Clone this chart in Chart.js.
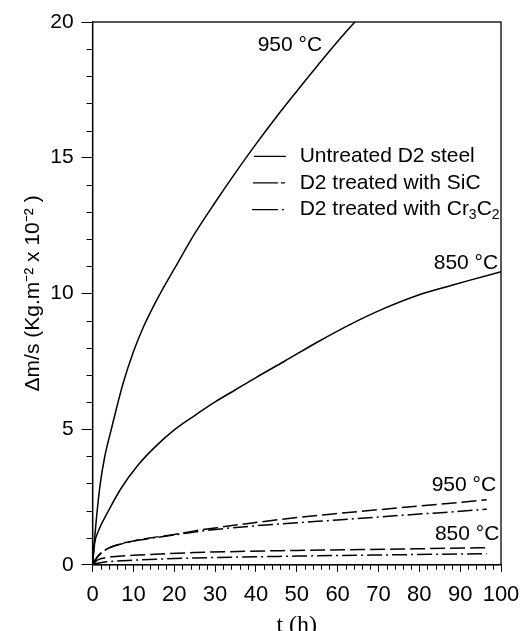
<!DOCTYPE html>
<html lang="en">

<head>
    <meta charset="UTF-8">
    <script src="https://cdn.jsdelivr.net/npm/chart.js@4.4.0/dist/chart.umd.min.js"></script>
    <title>Mass gain</title>
    <style>
        body { margin: 0; background: #fff; overflow: hidden; }
        .box_chart { width: 526px; height: 631px; position: relative; }
    </style>
</head>

<body>
    <div class="box_chart">
        <canvas id="chartMassa"></canvas>
    </div>
</body>

</html>
<script>
    /* dados: tempo (h) e ganho de massa */
    var tUntreated950 = [0, 0.4, 1, 1.9, 3, 4.6, 6, 7.5, 10, 12.5, 15, 17.5, 20, 25, 30, 35, 40, 45, 50, 55, 60, 64.5];
    var mUntreated950 = [0, 0.8, 1.8, 3.0, 4.0, 5.0, 5.85, 6.7, 7.85, 8.78, 9.55, 10.25, 10.9, 12.2, 13.35, 14.45, 15.5, 16.5, 17.45, 18.38, 19.28, 20.05];

    var tUntreated850 = [0, 0.5, 1.5, 4, 7, 11, 15, 20, 25, 30, 35, 40, 47, 55, 63, 71, 80, 88, 92, 100];
    var mUntreated850 = [0, 0.78, 1.27, 2.02, 2.82, 3.65, 4.3, 4.97, 5.5, 6.0, 6.45, 6.9, 7.5, 8.2, 8.85, 9.42, 9.95, 10.3, 10.47, 10.8];

    var tTreated950 = [0, 1, 2, 4, 7, 10, 14, 20, 25, 30, 40, 50, 60, 70, 80, 90, 96.5];
    var mSiC950 = [0, 0.25, 0.42, 0.62, 0.78, 0.88, 0.99, 1.12, 1.25, 1.36, 1.56, 1.74, 1.89, 2.03, 2.17, 2.3, 2.4];
    var mCr950 = [0, 0.25, 0.42, 0.62, 0.77, 0.87, 0.97, 1.1, 1.21, 1.3, 1.44, 1.55, 1.65, 1.76, 1.87, 1.97, 2.05];

    var tSiC850 = [0, 1, 2, 5, 10, 25, 50, 75, 96.5];
    var mSiC850 = [0, 0.15, 0.22, 0.3, 0.35, 0.45, 0.53, 0.58, 0.63];
    var tCr850 = [0, 1, 3, 10, 25, 50, 75, 96.5];
    var mCr850 = [0, 0.05, 0.1, 0.17, 0.25, 0.32, 0.37, 0.41];

    var legendLabels = ['Untreated D2 steel', 'D2 treated with SiC', 'D2 treated with Cr'];
    var tempLabels = ['950 °C', '850 °C', '950 °C', '850 °C'];

    function pontos(t, m) {
        return t.map(function (v, i) { return { x: v, y: m[i] }; });
    }

    var fonte = 'Liberation Sans, Arial, sans-serif';
    var DASH_SIC = [15, 5];
    var DASH_CR = [15, 4, 2, 4];

    function serie(t, m, dash) {
        return {
            data: pontos(t, m),
            borderColor: '#000',
            borderWidth: 1.5,
            borderDash: dash,
            pointRadius: 0,
            fill: false,
            cubicInterpolationMode: 'monotone'
        };
    }

    /* moldura, ticks menores, legenda e rotulos de temperatura */
    var extras = {
        id: 'extras',
        afterDraw: function (chart) {
            var ctx = chart.ctx;
            var a = chart.chartArea;
            var sx = chart.scales.x;
            var sy = chart.scales.y;
            ctx.save();
            ctx.strokeStyle = '#000';
            ctx.lineWidth = 1.3;
            ctx.strokeRect(a.left, a.top, a.right - a.left, a.bottom - a.top);

            // ticks menores
            ctx.lineWidth = 1;
            ctx.beginPath();
            for (var v = 1; v < 20; v++) {
                if (v % 5 === 0) continue;
                var py = Math.round(sy.getPixelForValue(v)) + 0.5;
                ctx.moveTo(a.left - 6, py);
                ctx.lineTo(a.left, py);
            }
            for (var h = 2; h < 100; h += 2) {
                if (h % 10 === 0) continue;
                var px = Math.round(sx.getPixelForValue(h)) + 0.5;
                ctx.moveTo(px, a.bottom);
                ctx.lineTo(px, a.bottom + 5);
            }
            ctx.stroke();

            // legenda
            ctx.fillStyle = '#000';
            ctx.font = '21px ' + fonte;
            ctx.textBaseline = 'middle';
            ctx.textAlign = 'left';
            var linhas = [15.05, 14.07, 13.09];
            var x0 = sx.getPixelForValue(39.5);
            var xt = sx.getPixelForValue(50.7);
            ctx.lineWidth = 1.3;
            linhas.forEach(function (val, i) {
                var yy = sy.getPixelForValue(val);
                ctx.beginPath();
                if (i === 0) {
                    ctx.moveTo(x0, yy); ctx.lineTo(x0 + 32, yy);
                } else if (i === 1) {
                    ctx.moveTo(x0 - 1, yy); ctx.lineTo(x0 + 24, yy);
                    ctx.moveTo(x0 + 27, yy); ctx.lineTo(x0 + 31, yy);
                } else {
                    ctx.moveTo(x0 - 2, yy); ctx.lineTo(x0 + 24, yy);
                    ctx.moveTo(x0 + 28, yy); ctx.lineTo(x0 + 30, yy);
                }
                ctx.stroke();
                ctx.fillText(legendLabels[i], xt, yy);
            });
            // subscritos do Cr3C2
            var yCr = sy.getPixelForValue(linhas[2]);
            var xx = xt + ctx.measureText(legendLabels[2]).width;
            ctx.font = '14px ' + fonte;
            ctx.fillText('3', xx, yCr + 6);
            xx += ctx.measureText('3').width;
            ctx.font = '21px ' + fonte;
            ctx.fillText('C', xx, yCr);
            xx += ctx.measureText('C').width;
            ctx.font = '14px ' + fonte;
            ctx.fillText('2', xx, yCr + 6);

            // rotulos de temperatura
            ctx.font = '21px ' + fonte;
            ctx.textAlign = 'right';
            var posT = [[56.2, 19.15], [99.3, 11.13], [98.8, 2.93], [99.6, 1.14]];
            posT.forEach(function (p, i) {
                ctx.fillText(tempLabels[i], sx.getPixelForValue(p[0]), sy.getPixelForValue(p[1]));
            });
            ctx.restore();
        }
    };

    var ctx1 = chartMassa.getContext('2d');
    var myChart = new Chart(ctx1, {
        type: 'line',
        data: {
            datasets: [
                serie(tUntreated950, mUntreated950, []),
                serie(tUntreated850, mUntreated850, []),
                serie(tTreated950, mSiC950, DASH_SIC),
                serie(tTreated950, mCr950, DASH_CR),
                serie(tSiC850, mSiC850, DASH_SIC),
                serie(tCr850, mCr850, DASH_CR)
            ]
        },
        options: {
            responsive: true,
            maintainAspectRatio: false,
            animation: false,
            layout: { padding: { left: 9, right: 25, top: 22, bottom: -9 } },
            plugins: {
                legend: { display: false },
                tooltip: { enabled: false }
            },
            scales: {
                x: {
                    type: 'linear',
                    min: 0,
                    max: 100,
                    afterFit: function (s) { s.paddingRight = 0; },
                    grid: { display: true, drawOnChartArea: false, tickLength: 7, color: '#000', lineWidth: 1 },
                    border: { color: '#000', width: 1.3 },
                    ticks: { stepSize: 10, color: '#000', padding: 10, maxRotation: 0, autoSkip: false, font: { family: fonte, size: 22 } },
                    title: {
                        display: true,
                        text: 't (h)',
                        color: '#000',
                        padding: { top: -7, bottom: 0 },
                        font: { family: 'Liberation Serif, Times New Roman, serif', size: 24 }
                    }
                },
                y: {
                    min: 0,
                    max: 20,
                    grid: { display: true, drawOnChartArea: false, tickLength: 11, color: '#000', lineWidth: 1 },
                    border: { color: '#000', width: 1.3 },
                    ticks: { stepSize: 5, color: '#000', padding: 8, font: { family: fonte, size: 21 } },
                    title: {
                        display: true,
                        text: 'Δm/s (Kg.m⁻² x 10⁻² )',
                        color: '#000',
                        padding: { top: 12, bottom: -4 },
                        font: { family: fonte, size: 21 }
                    }
                }
            }
        },
        plugins: [extras]
    });
</script>
